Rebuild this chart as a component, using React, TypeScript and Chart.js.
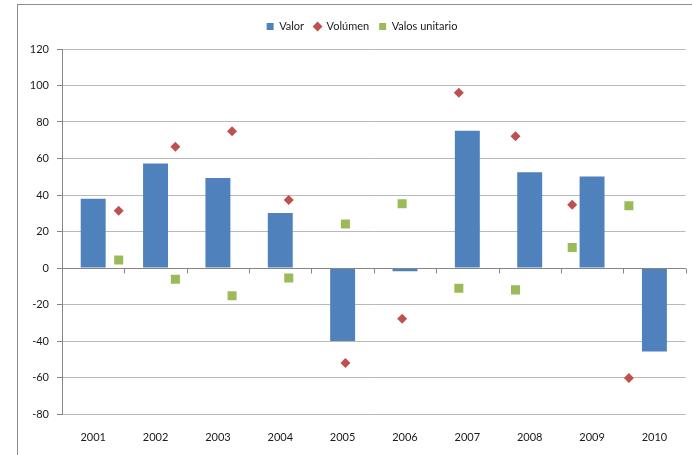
import React, { useEffect, useRef } from 'react';
import { Chart, registerables } from 'chart.js';

Chart.register(...registerables);

const years = ['2001', '2002', '2003', '2004', '2005', '2006', '2007', '2008', '2009', '2010'];
const valor = [38, 57.2, 49.3, 30.1, -40, -1.8, 75.2, 52.4, 50.2, -45.8];
const volumen = [31.4, 66.5, 75, 37.3, -52, -27.8, 96, 72.2, 34.7, -60.3];
const valosUnitario = [4.4, -6.2, -15.2, -5.5, 24.1, 35.2, -11.1, -12, 11.2, 34.1];
const markerX = [1, 2, 3, 4, 5, 6, 7, 8, 9, 10];
const yMin = -80;
const yMax = 120;
const yStep = 20;

const FONT = 'Lato, "Noto Sans", sans-serif';
const AXIS = '#868686';
const GRID = '#b9b9b9';

const legendSpace = {
  id: 'legendSpace',
  beforeInit(chart: any) {
    const orig = chart.legend.fit;
    chart.legend.fit = function fit() {
      orig.call(this);
      this.height += 7;
    };
  },
  afterLayout(chart: any) {
    if (chart.legend) chart.legend.left += 16;
  },
};

const zeroAxis = {
  id: 'zeroAxis',
  afterDatasetsDraw(chart: any) {
    const { ctx, scales } = chart;
    const x = scales.x;
    const y = scales.y;
    const y0 = Math.round(y.getPixelForValue(0)) + 0.5;
    ctx.save();
    ctx.strokeStyle = AXIS;
    ctx.lineWidth = 1;
    ctx.beginPath();
    ctx.moveTo(chart.chartArea.left, y0);
    ctx.lineTo(chart.chartArea.right, y0);
    for (let i = 0; i < years.length; i++) {
      const px = Math.round(x.getPixelForValue(i + 0.5)) + 0.5;
      ctx.moveTo(px, y0);
      ctx.lineTo(px, y0 + 5);
    }
    ctx.stroke();
    ctx.restore();
  },
};

export default function App() {
  const ref = useRef<HTMLCanvasElement>(null);
  useEffect(() => {
    if (!ref.current) return;
    const chart = new Chart(ref.current, {
      type: 'bar',
      data: {
        labels: years,
        datasets: [
          {
            type: 'bar',
            label: 'Valor',
            data: valor,
            backgroundColor: '#4F81BD',
            borderWidth: 0,
            grouped: false,
            categoryPercentage: 1,
            barPercentage: 0.4,
            xAxisID: 'x',
            order: 3,
            pointStyle: 'rect',
          } as any,
          {
            type: 'scatter',
            label: 'Volúmen',
            data: markerX.map((x, i) => ({ x, y: volumen[i] })),
            backgroundColor: '#C0504D',
            borderColor: '#C0504D',
            borderWidth: 0,
            pointStyle: 'rectRot',
            pointRadius: 5,
            xAxisID: 'x2',
            order: 1,
          } as any,
          {
            type: 'scatter',
            label: 'Valos unitario',
            data: markerX.map((x, i) => ({ x, y: valosUnitario[i] })),
            backgroundColor: '#9BBB59',
            borderColor: '#9BBB59',
            borderWidth: 0,
            pointStyle: 'rect',
            pointRadius: 6.4,
            xAxisID: 'x2',
            order: 2,
          } as any,
        ],
      },
      options: {
        animation: false,
        responsive: false,
        maintainAspectRatio: false,
        layout: { padding: { left: 18, right: 2, top: 11, bottom: 0 } },
        plugins: {
          tooltip: { enabled: false },
          legend: {
            position: 'top',
            labels: {
              usePointStyle: true,
              boxWidth: 7,
              boxHeight: 7,
              padding: 10,
              color: '#1a1a1a',
              font: { family: FONT, size: 11 },
              sort: (a: any, b: any) => a.datasetIndex - b.datasetIndex,
            },
          },
        },
        scales: {
          x: {
            type: 'category',
            offset: true,
            grid: { display: false, drawTicks: false },
            border: { display: false },
            ticks: {
              color: '#1a1a1a',
              font: { family: FONT, size: 11 },
              padding: 17,
              maxRotation: 0,
            },
            afterFit(scale: any) {
              scale.height = 41;
            },
          },
          x2: {
            type: 'linear',
            display: false,
            min: 0,
            max: 11,
            offset: false,
          },
          y: {
            type: 'linear',
            min: yMin,
            max: yMax,
            ticks: {
              stepSize: yStep,
              color: '#1a1a1a',
              font: { family: FONT, size: 11 },
              padding: 8,
            },
            grid: {
              color: (c: any) => (c.tick && c.tick.value === 0 ? AXIS : GRID),
              tickColor: AXIS,
              tickLength: 5,
              lineWidth: 1,
            },
            border: { display: true, color: AXIS },
            afterFit(scale: any) {
              scale.width = 44;
            },
          },
        },
      },
      plugins: [legendSpace, zeroAxis],
    } as any);
    return () => chart.destroy();
  }, []);

  return (
    <div style={{ position: 'absolute', left: 0, top: 0, width: 692, height: 455, background: '#fff', overflow: 'hidden' }}>
      <div
        style={{
          position: 'absolute',
          left: 17,
          top: 4,
          width: 700,
          height: 460,
          borderLeft: '1px solid #8c8c8c',
          borderTop: '1px solid #8c8c8c',
        }}
      />
      <canvas ref={ref} width={692} height={455} style={{ position: 'absolute', left: 0, top: 0 }} />
    </div>
  );
}
